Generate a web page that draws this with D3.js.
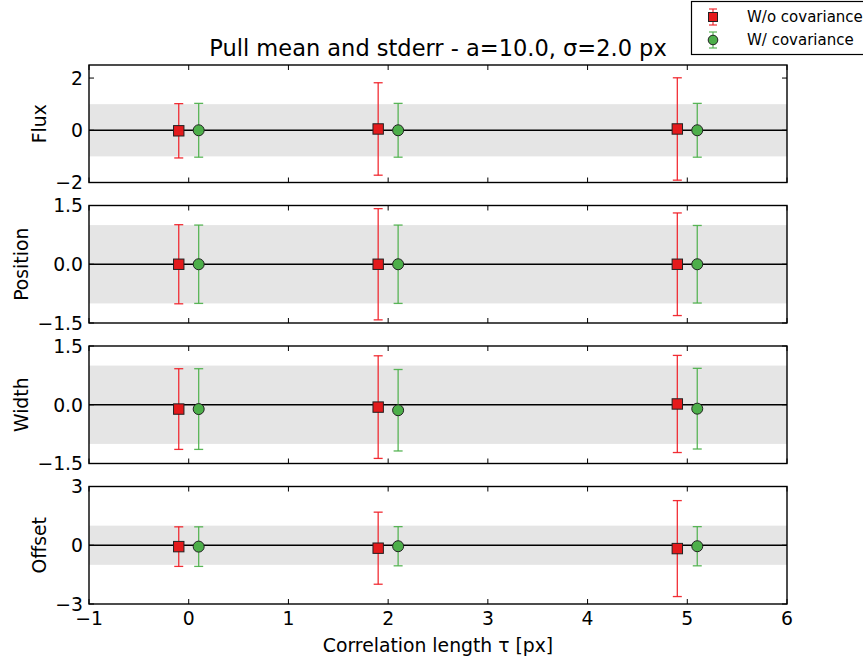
<!DOCTYPE html>
<html><head><meta charset="utf-8">
<script src="https://cdn.jsdelivr.net/npm/d3@7"></script>
<style>body{margin:0;background:#fff}svg{display:block;font-family:"DejaVu Sans",sans-serif}</style>
</head><body><svg id="c" width="863" height="660"></svg>
<script>
// ---- data ----
const tau = [0, 2, 5];
const dodge = 0.1;
const panelNames = ["Flux", "Position", "Width", "Offset"];
const yDomains = [[-2, 2.5], [-1.5, 1.5], [-1.5, 1.5], [-3, 3]];
const yTicks = [[-2, 0, 2], [-1.5, 0, 1.5], [-1.5, 0, 1.5], [-3, 0, 3]];
const yTickFormats = ["d", ".1f", ".1f", "d"];
const xTicks = [-1, 0, 1, 2, 3, 4, 5, 6];
const seriesNames = ["W/o covariance", "W/ covariance"];

const fluxMeanWo = [-0.02, 0.05, 0.05], fluxErrWo = [1.04, 1.77, 1.96];
const fluxMeanW = [0.0, 0.0, 0.0], fluxErrW = [1.03, 1.03, 1.03];
const posMeanWo = [0.0, 0.0, 0.0], posErrWo = [1.01, 1.42, 1.31];
const posMeanW = [0.0, 0.0, 0.0], posErrW = [1.0, 1.0, 0.99];
const widthMeanWo = [-0.11, -0.06, 0.02], widthErrWo = [1.03, 1.31, 1.24];
const widthMeanW = [-0.11, -0.14, -0.10], widthErrW = [1.03, 1.04, 1.03];
const offsetMeanWo = [-0.07, -0.15, -0.17], offsetErrWo = [1.01, 1.84, 2.45];
const offsetMeanW = [-0.07, -0.05, -0.05], offsetErrW = [1.01, 1.0, 1.0];

const panels = [
  {wo: [fluxMeanWo, fluxErrWo], w: [fluxMeanW, fluxErrW]},
  {wo: [posMeanWo, posErrWo], w: [posMeanW, posErrW]},
  {wo: [widthMeanWo, widthErrWo], w: [widthMeanW, widthErrW]},
  {wo: [offsetMeanWo, offsetErrWo], w: [offsetMeanW, offsetErrW]}
];

// ---- layout ----
const left = 89, right = 787, top0 = 65, ph = 117.5, gap = 23;
const fs = 18.8;
const red = "#e41a1c", green = "#4daf4a";
const redBar = "#f01c24", greenBar = "#4cb04a";
const svg = d3.select("#c");
const minus = s => s.replace(/-/g, "\u2212");
const x = d3.scaleLinear().domain([-1, 6]).range([left, right]);

panels.forEach((p, i) => {
  const t = top0 + i * (ph + gap), b = t + ph;
  const y = d3.scaleLinear().domain(yDomains[i]).range([b, t]);
  const g = svg.append("g");
  g.append("rect").attr("x", left).attr("width", right - left)
    .attr("y", y(1)).attr("height", y(-1) - y(1)).attr("fill", "#e5e5e5");
  g.append("line").attr("x1", left).attr("x2", right).attr("y1", y(0)).attr("y2", y(0))
    .attr("stroke", "#000").attr("stroke-width", 1.5);
  const series = [
    {m: p.wo[0], e: p.wo[1], dx: -dodge, c: red, bc: redBar, shape: "sq"},
    {m: p.w[0], e: p.w[1], dx: dodge, c: green, bc: greenBar, shape: "ci"}
  ];
  series.forEach(s => {
    tau.forEach((tv, k) => {
      const cx = x(tv + s.dx), lo = y(s.m[k] - s.e[k]), hi = y(s.m[k] + s.e[k]);
      const eg = g.append("g").attr("stroke", s.bc).attr("stroke-opacity", 0.92).attr("stroke-width", 1.3);
      eg.append("line").attr("x1", cx).attr("x2", cx).attr("y1", lo).attr("y2", hi);
      eg.append("line").attr("x1", cx - 4.5).attr("x2", cx + 4.5).attr("y1", lo).attr("y2", lo);
      eg.append("line").attr("x1", cx - 4.5).attr("x2", cx + 4.5).attr("y1", hi).attr("y2", hi);
    });
    tau.forEach((tv, k) => {
      const cx = x(tv + s.dx), cy = y(s.m[k]);
      if (s.shape === "sq")
        g.append("rect").attr("x", cx - 5.2).attr("y", cy - 5.2).attr("width", 10.4).attr("height", 10.4)
          .attr("fill", s.c).attr("stroke", "#222").attr("stroke-width", 1);
      else
        g.append("circle").attr("cx", cx).attr("cy", cy).attr("r", 5.5)
          .attr("fill", s.c).attr("stroke", "#222").attr("stroke-width", 1);
    });
  });
  const tl = 5;
  xTicks.forEach(v => {
    g.append("line").attr("x1", x(v)).attr("x2", x(v)).attr("y1", b).attr("y2", b - tl).attr("stroke", "#000");
    g.append("line").attr("x1", x(v)).attr("x2", x(v)).attr("y1", t).attr("y2", t + tl).attr("stroke", "#000");
  });
  const fmt = d3.format(yTickFormats[i]);
  const tg = g.append("g");
  yTicks[i].forEach(v => {
    g.append("line").attr("x1", left).attr("x2", left + tl).attr("y1", y(v)).attr("y2", y(v)).attr("stroke", "#000");
    g.append("line").attr("x1", right).attr("x2", right - tl).attr("y1", y(v)).attr("y2", y(v)).attr("stroke", "#000");
    tg.append("text").attr("x", left - 6).attr("y", y(v)).attr("dy", "0.36em")
      .attr("text-anchor", "end").attr("font-size", fs).text(minus(fmt(v)));
  });
  g.append("rect").attr("x", left).attr("y", t).attr("width", right - left).attr("height", ph)
    .attr("fill", "none").attr("stroke", "#000").attr("stroke-width", 1.4);
  const bb = tg.node().getBBox();
  const lx = bb.x - 9;
  g.append("text").attr("transform", `translate(${lx},${(t + b) / 2}) rotate(-90)`)
    .attr("text-anchor", "middle").attr("font-size", fs).text(panelNames[i]);
  if (i === panels.length - 1) {
    xTicks.forEach(v => {
      g.append("text").attr("x", x(v)).attr("y", b + 21).attr("text-anchor", "middle")
        .attr("font-size", fs).text(minus(String(v)));
    });
    g.append("text").attr("x", (left + right) / 2).attr("y", b + 47.5).attr("text-anchor", "middle")
      .attr("font-size", fs).text("Correlation length \u03c4 [px]");
  }
});

svg.append("text").attr("x", (left + right) / 2).attr("y", 56).attr("text-anchor", "middle")
  .attr("font-size", 22.5).text("Pull mean and stderr - a=10.0, \u03c3=2.0 px");

const lg = svg.append("g");
lg.append("rect").attr("x", 691.5).attr("y", 1.5).attr("width", 190).attr("height", 53)
  .attr("fill", "#fff").attr("stroke", "#000").attr("stroke-width", 1.2);
seriesNames.forEach((n, j) => {
  const cy = 17 + j * 23, cx = 713;
  const c = j === 0 ? red : green;
  const bc = j === 0 ? redBar : greenBar;
  const eg = lg.append("g").attr("stroke", bc).attr("stroke-opacity", 0.92).attr("stroke-width", 1.2);
  eg.append("line").attr("x1", cx).attr("x2", cx).attr("y1", cy - 8).attr("y2", cy + 8);
  eg.append("line").attr("x1", cx - 4).attr("x2", cx + 4).attr("y1", cy - 8).attr("y2", cy - 8);
  eg.append("line").attr("x1", cx - 4).attr("x2", cx + 4).attr("y1", cy + 8).attr("y2", cy + 8);
  if (j === 0)
    lg.append("rect").attr("x", cx - 4.5).attr("y", cy - 4.5).attr("width", 9).attr("height", 9)
      .attr("fill", c).attr("stroke", "#222");
  else
    lg.append("circle").attr("cx", cx).attr("cy", cy).attr("r", 4.8).attr("fill", c).attr("stroke", "#222");
  lg.append("text").attr("x", 747).attr("y", cy + 5).attr("font-size", 15).text(n);
});
</script></body></html>
